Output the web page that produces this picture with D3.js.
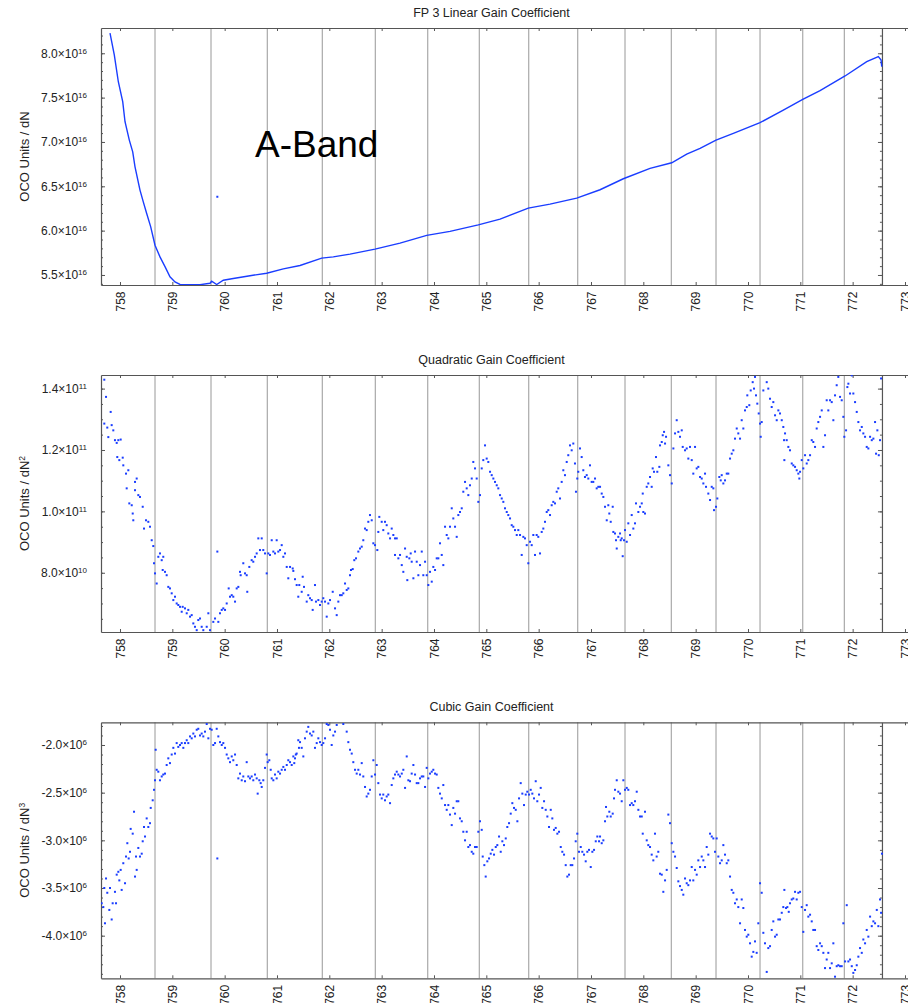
<!DOCTYPE html>
<html>
<head>
<meta charset="utf-8">
<script src="https://cdn.jsdelivr.net/npm/d3@7"></script>
<style>
  body { margin: 0; background: #fff; }
  text { font-family: "Liberation Sans", Arial, Helvetica, sans-serif; fill: #222; }
</style>
</head>
<body>
<script>
// wavelength (nm) of the gray divider lines
const dividers = [758.669, 759.739, 760.815, 761.866, 762.879, 763.880, 764.866, 765.810,
  766.746, 767.650, 768.535, 769.389, 770.230, 771.046, 771.841];
const lastPixel = 772.56;
const xTicks = [758, 759, 760, 761, 762, 763, 764, 765, 766, 767, 768, 769, 770, 771, 772, 773];

// FP 3 linear gain, units of 1e16
const linearPoints = [
  [757.809, 8.226], [757.891, 7.981], [757.968, 7.679], [758.052, 7.454], [758.096, 7.228],
  [758.178, 7.021], [758.243, 6.889], [758.287, 6.720], [758.382, 6.457], [758.445, 6.325],
  [758.510, 6.194], [758.587, 6.043], [758.669, 5.836], [758.764, 5.704], [758.860, 5.594],
  [758.955, 5.479], [759.051, 5.422], [759.147, 5.393], [759.338, 5.390], [759.529, 5.390],
  [759.720, 5.407], [759.752, 5.430], [759.848, 5.393], [759.974, 5.441], [760.165, 5.460],
  [760.484, 5.492], [760.803, 5.520], [761.121, 5.569], [761.440, 5.607], [761.854, 5.690],
  [762.076, 5.704], [762.395, 5.735], [762.873, 5.791], [763.351, 5.859], [763.861, 5.946],
  [764.306, 5.991], [764.847, 6.065], [765.262, 6.130], [765.802, 6.254], [766.217, 6.299],
  [766.727, 6.367], [767.173, 6.461], [767.618, 6.585], [768.128, 6.702], [768.543, 6.765],
  [768.829, 6.863], [769.084, 6.928], [769.389, 7.021], [769.720, 7.097], [770.230, 7.217],
  [770.675, 7.360], [771.046, 7.481], [771.377, 7.578], [771.855, 7.744], [772.269, 7.905],
  [772.491, 7.962], [772.543, 7.924], [772.556, 7.849]
];
const linearOutliers = [[759.86, 6.382]];

// quadratic gain, units of 1e10
const quadPoints = [
  [757.700,14.29],[757.733,13.73],[757.700,12.86],[757.757,12.73],[757.777,12.42],[757.822,13.24],
  [757.841,12.81],[757.872,12.64],[757.904,12.32],[757.937,12.23],[757.968,12.32],[758.013,12.34],
  [757.948,11.77],[757.987,11.67],[758.052,11.75],[758.063,11.50],[758.115,11.23],[758.159,11.34],
  [758.128,10.75],[758.178,10.26],[758.243,9.93],[758.224,10.20],[758.287,10.69],[758.319,11.07],
  [758.287,10.96],[758.254,9.71],[758.350,10.53],[758.382,10.47],[758.434,10.15],[758.459,9.44],
  [758.497,9.71],[758.541,9.66],[758.573,9.50],[758.606,9.06],[758.636,8.87],[758.650,8.31],
  [758.669,7.98],[758.701,7.65],[758.732,8.52],[758.764,8.63],[758.797,8.41],[758.827,8.52],
  [758.816,8.09],[758.860,8.03],[758.892,7.92],[758.923,7.54],[758.955,7.49],[758.988,7.33],
  [759.019,7.11],[759.051,7.22],[759.083,7.00],[759.114,6.95],[759.147,6.89],[759.179,6.73],
  [759.198,6.89],[759.242,6.84],[759.275,6.68],[759.305,6.79],[759.338,6.57],[759.370,6.62],
  [759.401,6.35],[759.433,6.24],[759.466,6.13],[759.496,6.46],[759.529,6.51],[759.561,6.24],
  [759.592,6.13],[759.657,6.24],[759.688,6.68],[759.720,6.13],[759.783,6.40],[759.816,6.51],
  [759.860,8.69],[759.879,6.40],[759.911,6.68],[759.944,6.79],[759.974,6.84],[760.007,6.79],
  [760.039,7.00],[760.077,7.49],[760.102,7.22],[760.135,7.27],[760.165,7.22],[760.198,7.06],
  [760.230,7.49],[760.261,7.54],[760.293,8.03],[760.306,7.92],[760.356,8.31],[760.389,7.98],
  [760.421,7.92],[760.432,7.38],[760.471,8.19],[760.516,8.41],[760.547,8.36],[760.580,8.52],
  [760.612,8.63],[760.643,9.12],[760.675,8.74],[760.708,9.12],[760.738,8.74],[760.771,8.63],
  [760.803,7.98],[760.834,8.63],[760.866,8.58],[760.899,9.06],[760.930,8.69],[760.962,8.63],
  [760.994,9.06],[761.025,8.69],[761.058,8.74],[761.090,8.90],[761.121,8.52],[761.153,8.63],
  [761.186,8.19],[761.216,7.82],[761.249,8.19],[761.300,8.14],[761.312,8.06],[761.344,7.79],
  [761.376,7.60],[761.407,7.22],[761.426,7.60],[761.472,7.38],[761.491,7.87],[761.516,7.54],
  [761.568,7.06],[761.598,7.27],[761.631,7.17],[761.663,7.11],[761.682,6.79],[761.726,7.60],
  [761.745,7.06],[761.790,7.11],[761.822,6.95],[761.854,7.06],[761.885,7.17],[761.918,7.06],
  [761.950,6.57],[761.981,7.00],[762.013,7.11],[762.065,7.38],[762.109,6.84],[762.141,6.62],
  [762.172,7.06],[762.204,7.27],[762.237,7.27],[762.267,7.33],[762.300,7.65],[762.332,7.44],
  [762.363,7.49],[762.395,7.92],[762.414,8.09],[762.447,8.12],[762.477,8.41],[762.510,8.47],
  [762.554,8.69],[762.586,8.79],[762.619,8.85],[762.649,9.06],[762.682,9.44],[762.714,9.39],
  [762.745,9.66],[762.777,9.88],[762.810,9.71],[762.841,8.96],[762.873,8.90],[762.917,8.74],
  [762.936,9.33],[762.955,9.82],[763.001,9.66],[763.031,9.39],[763.064,9.66],[763.096,9.55],
  [763.127,9.28],[763.160,9.12],[763.192,9.44],[763.223,9.23],[763.255,9.12],[763.288,9.12],
  [763.255,8.58],[763.319,8.47],[763.351,8.58],[763.384,8.25],[763.414,8.03],[763.447,8.79],
  [763.479,8.52],[763.490,7.76],[763.529,8.47],[763.555,8.63],[763.574,8.36],[763.606,7.82],
  [763.638,8.69],[763.670,8.36],[763.701,7.92],[763.733,8.25],[763.766,8.69],[763.796,7.92],
  [763.829,8.36],[763.861,7.92],[763.892,7.60],[763.924,8.03],[763.957,7.71],[763.987,8.19],
  [764.020,8.09],[764.052,8.47],[764.083,8.47],[764.115,8.96],[764.148,8.58],[764.178,8.25],
  [764.211,9.50],[764.243,9.23],[764.274,9.12],[764.306,9.50],[764.339,10.10],[764.369,9.77],
  [764.402,9.50],[764.434,9.17],[764.465,9.88],[764.497,9.98],[764.530,10.10],[764.560,10.64],
  [764.593,10.96],[764.625,10.75],[764.656,10.53],[764.688,10.85],[764.721,11.07],[764.751,11.61],
  [764.784,11.40],[764.816,11.07],[764.847,10.31],[764.879,10.53],[764.912,11.40],[764.942,11.67],
  [764.975,12.15],[765.007,11.72],[765.038,11.61],[765.071,11.29],[765.103,11.18],[765.134,11.07],
  [765.166,10.96],[765.199,10.85],[765.229,10.75],[765.262,10.53],[765.294,10.42],[765.325,10.31],
  [765.357,10.10],[765.390,9.98],[765.420,9.88],[765.453,9.77],[765.485,9.55],[765.516,9.50],
  [765.548,9.39],[765.581,9.23],[765.611,9.39],[765.644,9.23],[765.676,8.58],[765.707,9.17],
  [765.739,9.12],[765.772,8.90],[765.802,8.31],[765.835,9.01],[765.867,8.90],[765.898,9.23],
  [765.930,8.58],[765.962,9.23],[765.993,9.17],[766.026,8.63],[766.058,9.33],[766.089,9.44],
  [766.121,9.66],[766.154,9.98],[766.184,10.04],[766.217,9.88],[766.249,10.20],[766.280,10.31],
  [766.312,10.26],[766.345,10.64],[766.375,10.75],[766.408,10.42],[766.440,10.96],[766.471,11.34],
  [766.503,11.18],[766.536,11.61],[766.566,11.83],[766.599,12.15],[766.631,11.99],[766.662,12.21],
  [766.694,11.56],[766.713,10.64],[766.738,11.07],[766.757,11.29],[766.790,12.05],[766.822,11.77],
  [766.853,11.34],[766.885,11.12],[766.918,11.18],[766.949,11.07],[766.981,11.50],[767.013,10.96],
  [767.044,10.96],[767.077,11.07],[767.109,10.75],[767.140,10.80],[767.173,10.80],[767.205,10.58],
  [767.236,10.47],[767.268,10.15],[767.301,9.71],[767.331,10.20],[767.350,9.93],[767.377,9.66],
  [767.415,10.15],[767.427,9.33],[767.459,9.28],[767.478,9.06],[767.492,8.79],[767.522,9.17],
  [767.555,9.28],[767.568,9.06],[767.587,9.12],[767.606,8.54],[767.631,9.06],[767.650,9.39],
  [767.683,9.01],[767.713,9.61],[767.746,9.23],[767.778,9.88],[767.809,9.44],[767.841,9.61],
  [767.860,10.26],[767.905,9.98],[767.937,10.15],[767.970,10.26],[767.989,10.58],[768.000,9.98],
  [768.032,9.93],[768.065,10.80],[768.095,10.91],[768.128,11.12],[768.160,10.80],[768.179,11.40],
  [768.204,11.29],[768.242,11.77],[768.267,11.29],[768.306,11.45],[768.319,12.15],[768.352,12.26],
  [768.371,12.48],[768.396,12.59],[768.415,12.21],[768.434,12.43],[768.478,11.50],[768.510,11.18],
  [768.543,10.91],[768.574,12.05],[768.606,12.54],[768.638,12.97],[768.669,12.59],[768.701,12.43],
  [768.734,12.64],[768.753,12.10],[768.797,11.99],[768.829,12.05],[768.860,11.72],[768.892,12.10],
  [768.925,11.67],[768.955,11.23],[768.988,12.10],[769.020,11.40],[769.051,11.45],[769.084,11.12],
  [769.116,11.07],[769.147,10.91],[769.179,11.23],[769.198,10.80],[769.242,10.58],[769.275,10.37],
  [769.307,10.80],[769.338,10.75],[769.351,10.04],[769.389,10.15],[769.414,10.42],[769.452,11.12],
  [769.479,11.01],[769.498,11.18],[769.529,10.91],[769.561,11.01],[769.594,11.23],[769.624,11.23],
  [769.657,11.72],[769.689,11.88],[769.720,11.99],[769.752,12.37],[769.785,12.70],[769.815,12.54],
  [769.848,12.37],[769.880,12.97],[769.911,12.70],[769.943,13.29],[769.976,13.40],[769.987,13.78],
  [770.025,13.46],[770.052,13.94],[770.090,14.21],[770.115,14.00],[770.134,14.38],[770.153,13.78],
  [770.178,13.51],[770.205,13.19],[770.230,12.86],[770.243,12.43],[770.262,12.91],[770.293,13.94],
  [770.325,14.50],[770.358,14.21],[770.388,14.00],[770.421,13.67],[770.453,13.40],[770.484,13.56],
  [770.517,13.13],[770.549,12.97],[770.580,13.29],[770.612,13.19],[770.645,12.97],[770.675,12.75],
  [770.689,12.32],[770.695,11.67],[770.708,12.54],[770.740,12.32],[770.771,12.10],[770.803,11.99],
  [770.836,11.56],[770.866,11.50],[770.899,11.45],[770.931,11.34],[770.962,11.23],[770.981,11.07],
  [770.995,11.29],[771.027,11.67],[771.057,11.40],[771.090,11.83],[771.122,11.56],[771.153,11.67],
  [771.186,11.83],[771.218,12.32],[771.248,12.26],[771.281,12.10],[771.313,12.70],[771.344,12.91],
  [771.377,13.08],[771.409,13.29],[771.440,12.10],[771.472,12.48],[771.504,13.62],[771.535,13.29],
  [771.568,13.62],[771.600,13.56],[771.631,12.97],[771.663,13.78],[771.695,14.11],[771.726,14.38],
  [771.759,13.73],[771.791,13.62],[771.822,13.08],[771.841,12.43],[771.874,12.64],[771.899,14.05],
  [771.918,14.16],[771.950,13.84],[771.983,14.43],[772.013,13.84],[772.046,13.56],[772.078,13.24],
  [772.109,12.91],[772.141,12.64],[772.174,12.75],[772.204,12.54],[772.237,12.43],[772.269,12.10],
  [772.300,12.05],[772.333,12.43],[772.365,12.32],[772.396,12.37],[772.428,12.91],[772.447,11.88],
  [772.472,12.64],[772.499,11.83],[772.523,12.32],[772.543,14.33]
];

// cubic gain, units of 1e6
const cubicPoints = [
  [757.650,-3.66],[757.681,-3.70],[757.700,-3.50],[757.733,-3.40],[757.713,-3.87],[757.757,-3.55],
  [757.796,-3.73],[757.809,-3.50],[757.841,-3.83],[757.860,-3.66],[757.904,-3.54],[757.924,-3.66],
  [757.937,-3.36],[757.968,-3.33],[757.987,-3.42],[758.013,-3.31],[758.032,-3.52],[758.063,-3.24],
  [758.096,-3.45],[758.115,-3.17],[758.140,-3.03],[758.166,-3.19],[758.191,-3.12],[758.204,-2.88],
  [758.243,-2.93],[758.268,-2.70],[758.287,-3.38],[758.306,-3.17],[758.319,-3.31],[758.350,-3.08],
  [758.382,-3.17],[758.415,-3.14],[758.434,-3.01],[758.459,-2.86],[758.478,-2.96],[758.510,-2.77],
  [758.541,-2.86],[758.573,-2.82],[758.587,-2.66],[758.625,-2.58],[758.650,-2.47],[758.669,-2.37],
  [758.682,-2.05],[758.701,-2.26],[758.732,-2.28],[758.764,-2.37],[758.797,-2.33],[758.827,-2.31],
  [758.860,-2.30],[758.892,-2.21],[758.923,-2.14],[758.955,-2.19],[758.988,-2.10],[759.019,-2.03],
  [759.051,-2.09],[759.083,-1.98],[759.114,-2.02],[759.147,-2.00],[759.179,-1.98],[759.210,-2.03],
  [759.242,-1.98],[759.275,-1.95],[759.305,-1.98],[759.338,-1.91],[759.370,-1.93],[759.401,-1.88],
  [759.433,-1.91],[759.466,-1.84],[759.496,-1.83],[759.529,-1.90],[759.561,-1.88],[759.592,-1.91],
  [759.624,-1.86],[759.657,-1.78],[759.688,-1.93],[759.720,-1.83],[759.752,-1.84],[759.783,-2.00],
  [759.816,-1.98],[759.848,-1.83],[759.860,-3.19],[759.879,-1.91],[759.911,-1.97],[759.944,-2.00],
  [759.974,-1.98],[760.007,-2.03],[760.039,-2.10],[760.070,-2.14],[760.102,-2.18],[760.135,-2.12],
  [760.165,-2.16],[760.198,-2.10],[760.230,-2.21],[760.261,-2.35],[760.293,-2.30],[760.326,-2.37],
  [760.356,-2.33],[760.389,-2.38],[760.421,-2.18],[760.452,-2.33],[760.484,-2.35],[760.516,-2.33],
  [760.547,-2.37],[760.580,-2.31],[760.612,-2.35],[760.631,-2.51],[760.662,-2.37],[760.688,-2.40],
  [760.708,-2.44],[760.738,-2.37],[760.771,-2.24],[760.803,-2.10],[760.822,-2.18],[760.853,-2.16],
  [760.880,-2.26],[760.899,-2.35],[760.930,-2.37],[760.962,-2.31],[760.994,-2.35],[761.025,-2.28],
  [761.058,-2.30],[761.090,-2.26],[761.121,-2.23],[761.153,-2.26],[761.186,-2.21],[761.216,-2.16],
  [761.249,-2.18],[761.281,-2.21],[761.312,-2.12],[761.330,-2.19],[761.344,-2.14],[761.360,-2.10],
  [761.376,-2.09],[761.407,-1.95],[761.420,-2.03],[761.440,-1.97],[761.472,-2.03],[761.503,-2.12],
  [761.535,-1.93],[761.568,-1.86],[761.598,-1.81],[761.631,-1.88],[761.663,-1.90],[761.694,-1.86],
  [761.726,-2.03],[761.759,-1.98],[761.790,-1.93],[761.822,-1.97],[761.854,-2.00],[761.885,-1.98],
  [761.918,-1.93],[761.950,-1.78],[761.981,-1.79],[762.013,-1.84],[762.045,-2.00],[762.076,-1.90],
  [762.109,-1.86],[762.141,-1.79],[762.267,-1.78],[762.332,-1.86],[762.363,-1.97],[762.395,-2.05],
  [762.428,-2.09],[762.458,-2.18],[762.491,-2.26],[762.523,-2.30],[762.554,-2.26],[762.586,-2.31],
  [762.619,-2.19],[762.649,-2.33],[762.682,-2.44],[762.714,-2.54],[762.745,-2.51],[762.777,-2.47],
  [762.810,-2.33],[762.841,-2.16],[762.873,-2.31],[762.905,-2.21],[762.936,-2.40],[762.969,-2.52],
  [763.001,-2.56],[763.031,-2.52],[763.064,-2.58],[763.096,-2.54],[763.127,-2.52],[763.160,-2.61],
  [763.192,-2.42],[763.223,-2.35],[763.255,-2.31],[763.288,-2.28],[763.319,-2.31],[763.351,-2.33],
  [763.384,-2.30],[763.414,-2.26],[763.447,-2.45],[763.479,-2.12],[763.510,-2.37],[763.542,-2.38],
  [763.574,-2.30],[763.606,-2.21],[763.638,-2.31],[763.670,-2.40],[763.701,-2.40],[763.733,-2.35],
  [763.766,-2.33],[763.796,-2.33],[763.829,-2.44],[763.861,-2.24],[763.892,-2.35],[763.924,-2.30],
  [763.957,-2.28],[763.987,-2.26],[764.020,-2.30],[764.052,-2.31],[764.083,-2.45],[764.115,-2.51],
  [764.148,-2.56],[764.178,-2.42],[764.211,-2.63],[764.243,-2.68],[764.274,-2.63],[764.306,-2.73],
  [764.339,-2.84],[764.369,-2.66],[764.402,-2.72],[764.434,-2.59],[764.465,-2.59],[764.497,-2.77],
  [764.530,-2.80],[764.560,-2.91],[764.593,-3.00],[764.625,-2.91],[764.656,-3.07],[764.688,-3.05],
  [764.721,-3.12],[764.751,-3.14],[764.784,-3.07],[764.816,-3.07],[764.847,-2.91],[764.879,-2.80],
  [764.912,-2.89],[764.931,-3.17],[764.962,-3.26],[764.988,-3.38],[765.019,-3.22],[765.052,-3.19],
  [765.084,-3.14],[765.115,-3.10],[765.147,-3.15],[765.180,-3.07],[765.210,-3.05],[765.243,-2.96],
  [765.275,-3.12],[765.306,-3.01],[765.338,-3.05],[765.371,-2.98],[765.401,-2.86],[765.434,-2.82],
  [765.466,-2.72],[765.497,-2.61],[765.529,-2.66],[765.562,-2.68],[765.593,-2.80],[765.625,-2.56],
  [765.657,-2.40],[765.688,-2.51],[765.720,-2.63],[765.753,-2.52],[765.783,-2.49],[765.816,-2.52],
  [765.848,-2.47],[765.879,-2.51],[765.911,-2.56],[765.944,-2.38],[765.974,-2.59],[766.007,-2.52],
  [766.039,-2.45],[766.070,-2.66],[766.103,-2.59],[766.135,-2.68],[766.166,-2.75],[766.198,-2.86],
  [766.231,-2.68],[766.261,-2.77],[766.293,-2.89],[766.326,-2.87],[766.357,-2.93],[766.389,-2.91],
  [766.422,-3.07],[766.452,-3.12],[766.485,-3.15],[766.517,-3.26],[766.548,-3.38],[766.580,-3.36],
  [766.613,-3.26],[766.643,-3.26],[766.676,-3.19],[766.708,-3.01],[766.738,-2.93],[766.771,-3.12],
  [766.804,-3.07],[766.834,-3.12],[766.867,-3.15],[766.899,-3.22],[766.930,-3.12],[766.962,-3.10],
  [766.995,-3.28],[767.026,-3.12],[767.058,-3.10],[767.091,-3.01],[767.121,-2.96],[767.154,-3.01],
  [767.173,-2.96],[767.205,-3.03],[767.236,-3.00],[767.268,-2.80],[767.287,-2.65],[767.312,-2.75],
  [767.350,-2.70],[767.377,-2.75],[767.415,-2.72],[767.440,-2.56],[767.459,-2.47],[767.492,-2.37],
  [767.522,-2.49],[767.555,-2.51],[767.587,-2.59],[767.618,-2.37],[767.650,-2.47],[767.683,-2.45],
  [767.713,-2.47],[767.746,-2.63],[767.778,-2.61],[767.809,-2.63],[767.841,-2.59],[767.874,-2.49],
  [767.905,-2.68],[767.937,-2.75],[767.970,-2.75],[767.989,-2.93],[768.032,-2.70],[768.065,-3.00],
  [768.095,-3.05],[768.128,-3.07],[768.160,-3.15],[768.191,-3.21],[768.223,-2.93],[768.255,-3.17],
  [768.286,-3.12],[768.319,-3.35],[768.352,-3.36],[768.382,-3.54],[768.415,-3.42],[768.447,-3.31],
  [768.478,-2.73],[768.510,-2.82],[768.543,-3.03],[768.574,-3.12],[768.606,-3.17],[768.638,-3.29],
  [768.669,-3.43],[768.701,-3.48],[768.734,-3.52],[768.764,-3.57],[768.797,-3.40],[768.829,-3.45],
  [768.860,-3.47],[768.892,-3.42],[768.925,-3.28],[768.955,-3.42],[768.988,-3.31],[769.020,-3.36],
  [769.051,-3.21],[769.084,-3.28],[769.116,-3.17],[769.147,-3.21],[769.179,-3.28],[769.211,-3.07],
  [769.242,-3.15],[769.275,-2.93],[769.307,-2.96],[769.338,-2.98],[769.370,-3.12],[769.402,-2.98],
  [769.433,-3.17],[769.466,-3.24],[769.498,-3.21],[769.529,-3.05],[769.561,-3.15],[769.594,-3.24],
  [769.624,-3.21],[769.657,-3.38],[769.689,-3.52],[769.720,-3.55],[769.752,-3.66],[769.785,-3.62],
  [769.815,-3.70],[769.848,-3.87],[769.880,-3.62],[769.911,-3.71],[769.943,-3.94],[769.976,-4.01],
  [770.006,-3.99],[770.039,-4.08],[770.071,-4.22],[770.102,-4.17],[770.134,-4.06],[770.166,-4.18],
  [770.197,-3.87],[770.230,-3.45],[770.262,-3.55],[770.293,-3.97],[770.325,-4.08],[770.358,-4.38],
  [770.388,-4.13],[770.421,-4.11],[770.453,-3.94],[770.484,-3.85],[770.517,-4.01],[770.549,-3.99],
  [770.580,-3.83],[770.612,-3.83],[770.645,-3.76],[770.675,-3.70],[770.695,-3.52],[770.727,-3.71],
  [770.752,-3.70],[770.779,-3.75],[770.803,-3.66],[770.836,-3.62],[770.866,-3.61],[770.899,-3.54],
  [770.931,-3.62],[770.962,-3.55],[770.995,-3.54],[771.027,-3.70],[771.057,-3.96],[771.090,-3.73],
  [771.122,-3.68],[771.153,-3.80],[771.186,-3.78],[771.218,-3.85],[771.248,-3.94],[771.281,-3.94],
  [771.313,-4.11],[771.344,-4.15],[771.377,-4.08],[771.409,-4.11],[771.440,-4.18],[771.472,-4.34],
  [771.504,-4.25],[771.535,-4.18],[771.568,-4.34],[771.600,-4.29],[771.631,-4.08],[771.663,-4.43],
  [771.695,-4.32],[771.726,-4.31],[771.759,-4.32],[771.791,-4.32],[771.822,-3.87],[771.855,-4.27],
  [771.887,-3.68],[771.918,-4.27],[771.950,-4.25],[771.983,-4.32],[772.013,-4.39],[772.046,-4.36],
  [772.078,-4.31],[772.109,-4.22],[772.141,-4.13],[772.174,-4.18],[772.204,-4.04],[772.237,-4.08],
  [772.269,-3.94],[772.300,-4.01],[772.333,-3.80],[772.365,-3.90],[772.396,-3.85],[772.428,-3.87],
  [772.461,-3.73],[772.491,-3.90],[772.523,-3.62],[772.543,-3.76],[772.560,-3.14]
];

const linearTicks = [5.5, 6.0, 6.5, 7.0, 7.5, 8.0];
const quadTicks = [8, 10, 12, 14];
const cubicTicks = [-4.0, -3.5, -3.0, -2.5, -2.0];

const blue = '#1a3dff';
const frameColor = '#555';

const panels = [
  {title: 'FP 3 Linear Gain Coefficient', power: '', unit: 1e16, top: 28, bottom: 285,
   domain: [5.387, 8.285], ticks: linearTicks, minor: d3.range(5.4, 8.29, 0.1),
   points: linearPoints, outliers: linearOutliers, asLine: true},
  {title: 'Quadratic Gain Coefficient', power: '2', unit: 1e10, top: 375, bottom: 632,
   domain: [6.07, 14.443], ticks: quadTicks, minor: d3.range(6.5, 14.3, 0.5),
   points: quadPoints, outliers: [], asLine: false},
  {title: 'Cubic Gain Coefficient', power: '3', unit: 1e6, top: 722.3, bottom: 978.3,
   domain: [-4.447, -1.762], ticks: cubicTicks, minor: d3.range(-4.4, -1.75, 0.1),
   points: cubicPoints, outliers: [], asLine: false}
];

const svg = d3.select('body').append('svg')
    .attr('width', 908)
    .attr('height', 1003);

const xScale = d3.scaleLinear()
    .domain([757.637, 773.134])
    .range([101, 912]);
const xRight = xScale(lastPixel);

function tickLabel(sel, unit) {
  sel.each(function(d) {
    const v = d * unit;
    const e = Math.floor(Math.log10(Math.abs(v)) + 1e-9);
    const m = v / Math.pow(10, e);
    const t = d3.select(this).text('');
    t.append('tspan').text(m.toFixed(1) + '\u00d710');
    t.append('tspan').attr('dy', '-0.5em').style('font-size', '8px').text(e);
  });
}

panels.forEach((p, i) => {
  const g = svg.append('g');
  const yScale = d3.scaleLinear().domain(p.domain).range([p.bottom, p.top]);

  g.append('clipPath').attr('id', 'clip' + i)
    .append('rect')
    .attr('x', 101).attr('y', p.top)
    .attr('width', 820).attr('height', p.bottom - p.top);

  // divider lines
  g.selectAll('line.div')
    .data(dividers)
    .enter().append('line')
    .attr('class', 'div')
    .attr('x1', d => xScale(d)).attr('x2', d => xScale(d))
    .attr('y1', p.top).attr('y2', p.bottom)
    .style('stroke', '#a9a9a9')
    .style('stroke-width', 1.2);

  // x axes, ticks pointing inward
  const bottomAxis = g.append('g')
    .attr('transform', `translate(0,${p.bottom})`)
    .call(d3.axisBottom(xScale).tickValues(xTicks).tickSize(-3).tickSizeOuter(0));
  bottomAxis.selectAll('text')
    .attr('transform', 'rotate(-90)')
    .attr('x', -6.5).attr('y', 0).attr('dy', '0.35em')
    .style('text-anchor', 'end')
    .style('font-size', '12px');
  g.append('g')
    .attr('transform', `translate(0,${p.top})`)
    .call(d3.axisTop(xScale).tickValues(xTicks).tickSize(-3).tickSizeOuter(0).tickFormat(''));

  // left y axis
  const leftAxis = g.append('g')
    .attr('transform', 'translate(101,0)')
    .call(d3.axisLeft(yScale).tickValues(p.ticks).tickSize(-4).tickSizeOuter(0).tickPadding(14));
  leftAxis.selectAll('text').style('font-size', '12px').call(tickLabel, p.unit);
  g.append('g')
    .attr('transform', 'translate(101,0)')
    .call(d3.axisLeft(yScale).tickValues(p.minor).tickSize(-2).tickSizeOuter(0).tickFormat(''))
    .select('.domain').remove();

  // right edge line with ticks
  g.append('g')
    .attr('transform', `translate(${xRight},0)`)
    .call(d3.axisRight(yScale).tickValues(p.ticks).tickSize(-4).tickSizeOuter(0).tickFormat(''));
  g.append('g')
    .attr('transform', `translate(${xRight},0)`)
    .call(d3.axisRight(yScale).tickValues(p.minor).tickSize(-2).tickSizeOuter(0).tickFormat(''))
    .select('.domain').remove();

  g.selectAll('.domain').style('stroke', frameColor).style('stroke-width', 1.2);
  g.selectAll('.tick line').style('stroke', frameColor);
  g.selectAll('.tick text').style('fill', '#222');

  // data
  const data = g.append('g').attr('clip-path', `url(#clip${i})`);
  if (p.asLine) {
    data.append('path')
      .datum(p.points)
      .attr('d', d3.line().x(d => xScale(d[0])).y(d => yScale(d[1])))
      .style('fill', 'none')
      .style('stroke', blue)
      .style('stroke-width', 1.4);
  }
  data.selectAll('rect.pt')
    .data(p.asLine ? p.outliers : p.points)
    .enter().append('rect')
    .attr('class', 'pt')
    .attr('x', d => xScale(d[0]) - 1)
    .attr('y', d => yScale(d[1]) - 1)
    .attr('width', 2)
    .attr('height', 2)
    .style('fill', blue);

  // title
  g.append('text')
    .attr('x', (101 + xRight) / 2)
    .attr('y', p.top - 11)
    .style('text-anchor', 'middle')
    .style('font-size', '12.5px')
    .text(p.title);

  // y label
  const yl = g.append('text')
    .attr('transform', `translate(29,${(p.top + p.bottom) / 2}) rotate(-90)`)
    .style('text-anchor', 'middle')
    .style('font-size', '13px');
  yl.append('tspan').text('OCO Units / dN');
  if (p.power) {
    yl.append('tspan').attr('dy', '-0.45em').style('font-size', '8.5px').text(p.power);
  }
});

svg.append('text')
  .attr('x', 255)
  .attr('y', 157)
  .style('font-size', '37px')
  .style('fill', '#000')
  .text('A-Band');
</script>
</body>
</html>
